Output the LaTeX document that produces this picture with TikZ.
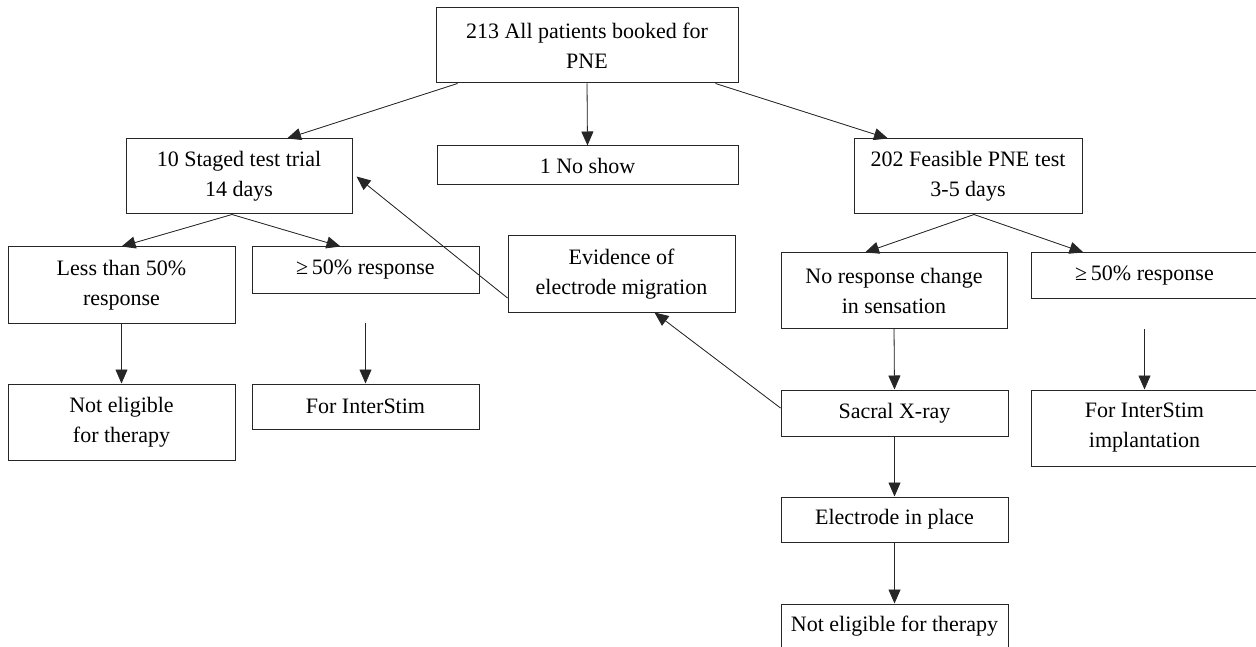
\documentclass[tikz,border=0pt]{standalone}
\usepackage{fontspec}
\setmainfont{Liberation Serif}
\usetikzlibrary{arrows.meta}

\begin{document}
\begin{tikzpicture}[x=1pt,y=-1pt,
  box/.style={draw=black!85,line width=1pt,align=center,inner sep=0pt,
    font=\fontsize{22}{30}\selectfont},
  arr/.style={-{Triangle[length=14pt,width=12pt]},line width=0.8pt,draw=black!85,fill=black}]

\useasboundingbox (0,0) rectangle (1256,647);

% first level
\node[box,minimum width=302pt,minimum height=75pt] (all) at (587,45.5) {213 All patients booked for\\PNE};
\node[box,minimum width=226pt,minimum height=75pt] (staged) at (239,176.5) {10 Staged test trial\\14 days};
\node[box,minimum width=301pt,minimum height=39pt] (noshow) at (587.5,165.5) {1 No show};
\node[box,minimum width=228pt,minimum height=75pt] (feasible) at (968,176.5) {202 Feasible PNE test\\3-5 days};

% second level
\node[box,minimum width=227pt,minimum height=76pt] (less) at (121.5,285) {Less than 50\%\\response};
\node[box,minimum width=227pt,minimum height=46pt] (respL) at (365.5,270) {≥\,50\% response};
\node[box,minimum width=227pt,minimum height=76pt] (evidence) at (621.5,274) {Evidence of\\electrode migration};
\node[box,minimum width=226pt,minimum height=75pt] (noresp) at (894,290.5) {No response change\\in sensation};
\node[box,minimum width=227pt,minimum height=45pt] (respR) at (1144.5,275.5) {≥\,50\% response};

% third level
\node[box,minimum width=227pt,minimum height=76pt] (notL) at (121.5,422) {Not eligible\\for therapy};
\node[box,minimum width=227pt,minimum height=45pt] (interL) at (365.5,406.5) {For InterStim};
\node[box,minimum width=227pt,minimum height=46pt] (sacral) at (894.5,413) {Sacral X-ray};
\node[box,minimum width=227pt,minimum height=76pt] (interR) at (1144.5,428) {For InterStim\\implantation};
\node[box,minimum width=227pt,minimum height=45pt] (electrode) at (894.5,519.5) {Electrode in place};
\node[box,minimum width=227pt,minimum height=45pt] (notB) at (894.5,626.5) {Not eligible for therapy};

\coordinate (gapL) at (365.5,323);
\coordinate (gapR) at (1144.5,329);

% arrows
\foreach \a/\b in {all/noshow,less/notL,noresp/sacral,sacral/electrode,electrode/notB}
  \draw[arr] (\a.south) -- (\b.north);
\draw[arr] (gapL) -- (interL.north);
\draw[arr] (gapR) -- (interR.north);

\draw[arr] ([xshift=22pt]all.south west) -- ([xshift=48pt]staged.north);
\draw[arr] ([xshift=-23pt]all.south east) -- ([xshift=-80pt]feasible.north);
\draw[arr] ([xshift=-7pt]staged.south) -- (less.north);
\draw[arr] ([xshift=-7pt]staged.south) -- ([xshift=-25pt]respL.north);
\draw[arr] ([xshift=6pt]feasible.south) -- ([xshift=-29pt]noresp.north);
\draw[arr] ([xshift=6pt]feasible.south) -- ([xshift=-61pt]respR.north);
\draw[arr] ([yshift=-24pt]evidence.west) -- ([xshift=4pt]staged.east);
\draw[arr] ([yshift=5pt]sacral.west) -- ([xshift=33pt]evidence.south);

\end{tikzpicture}
\end{document}
